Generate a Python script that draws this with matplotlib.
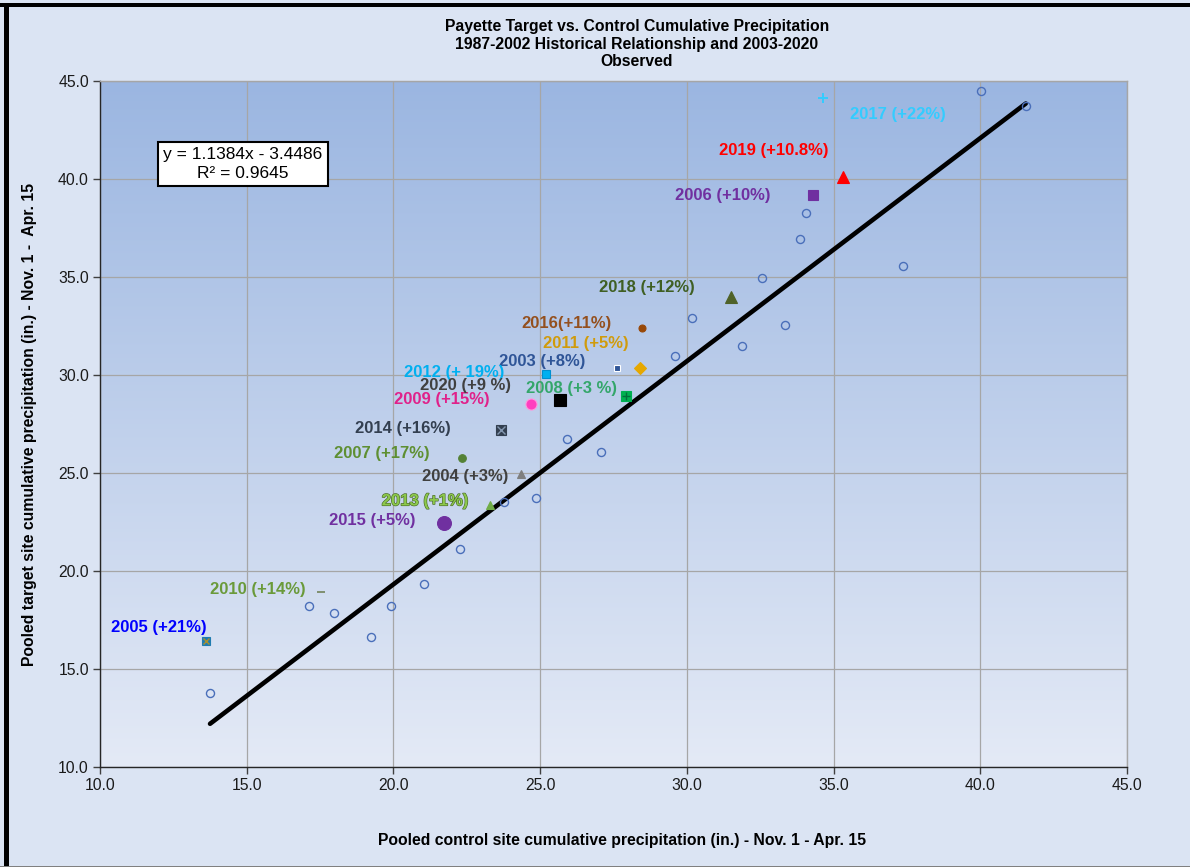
import numpy as np
import matplotlib
matplotlib.use("Agg")
import matplotlib.pyplot as plt
from matplotlib.patches import Rectangle
from matplotlib.colors import LinearSegmentedColormap
import matplotlib.patheffects as pe

plt.rcParams['font.family'] = ['Liberation Sans', 'DejaVu Sans']

# ---------------- data ----------------
# 1987-2002 historical pairs (control, target)
hist_x = [13.75, 17.13, 17.99, 19.23, 19.91, 21.04, 22.27, 23.77, 24.87, 25.91,
          27.06, 29.60, 30.16, 31.89, 32.57, 33.35, 33.86, 34.05, 37.35, 40.02, 41.55]
hist_y = [13.79, 18.21, 17.87, 16.62, 18.21, 19.34, 21.12, 23.50, 23.71, 26.75,
          26.09, 30.97, 32.92, 31.48, 34.96, 32.57, 36.92, 38.28, 35.56, 44.49, 43.72]

# 2003-2020 observed (seeded) years
years = [2003, 2004, 2005, 2006, 2007, 2008, 2009, 2010, 2011,
         2012, 2013, 2014, 2015, 2016, 2017, 2018, 2019, 2020]
obs_x = [27.63, 24.34, 13.61, 34.31, 22.35, 27.93, 24.70, 17.53, 28.40,
         25.19, 23.29, 23.67, 21.73, 28.48, 34.63, 31.50, 35.31, 25.66]
obs_y = [30.36, 24.97, 16.44, 39.18, 25.78, 28.93, 28.54, 18.94, 30.37,
         30.07, 23.37, 27.19, 22.43, 32.41, 44.12, 33.99, 40.08, 28.72]
obs_labels = ["2003 (+8%)", "2004 (+3%)", "2005 (+21%)", "2006 (+10%)", "2007 (+17%)",
              "2008 (+3 %)", "2009 (+15%)", "2010 (+14%)", "2011 (+5%)", "2012 (+ 19%)",
              "2013 (+1%)", "2014 (+16%)", "2015 (+5%)", "2016(+11%)", "2017 (+22%)",
              "2018 (+12%)", "2019 (+10.8%)", "2020 (+9 %)"]

# regression (as printed on the chart)
slope, intercept, r2 = 1.1384, -3.4486, 0.9645

x_ticks = [10.0, 15.0, 20.0, 25.0, 30.0, 35.0, 40.0, 45.0]
y_ticks = [10.0, 15.0, 20.0, 25.0, 30.0, 35.0, 40.0, 45.0]

title_lines = ["Payette Target vs. Control Cumulative Precipitation",
               "1987-2002 Historical Relationship and 2003-2020",
               "Observed"]
xlabel = "Pooled control site cumulative precipitation (in.) - Nov. 1 - Apr. 15"
ylabel = "Pooled target site cumulative precipitation (in.) - Nov. 1 -  Apr. 15"

# ---------------- styles ----------------
# year: (marker, size, face, edge, label color, label dx px, label dy px, overlay)
style = {
    2003: ('s', 5.0, '#2F5597', 'white', '#2F5597', -75, 6, None),
    2004: ('^', 6.0, '#7F7F7F', '#7F7F7F', '#404040', -56, -3, None),
    2005: ('s', 6.0, '#1F7CB0', '#1F7CB0', '#0000FF', -47, 13, ('x', '#A89030')),
    2006: ('s', 6.5, '#7030A0', '#7030A0', '#7030A0', -91, 0, None),
    2007: ('o', 5.5, '#548235', '#548235', '#5E8F32', -81, 4, None),
    2008: ('s', 6.5, '#00B050', '#00B050', '#33A66A', -55, 7, ('+', '#00703A')),
    2009: ('o', 8.0, '#FF3FBF', '#FF99DD', '#E0218A', -90, 4, None),
    2010: ('_', 6.0, '#7F8F6F', '#7F8F6F', '#6A9A3A', -63, 2, None),
    2011: ('D', 6.0, '#E6A800', '#E6A800', '#D09B0C', -54, 24, None),
    2012: ('s', 5.5, '#00B0F0', '#0090D0', '#00B0F0', -92, 1, None),
    2013: ('^', 6.0, '#70AD47', '#70AD47', '#8CC84B', -65, 4, None),
    2014: ('s', 7.0, '#333F50', '#333F50', '#333F50', -98, 2, ('x', '#8497B0')),
    2015: ('o', 10.0, '#7030A0', '#7030A0', '#7030A0', -72, 3, None),
    2016: ('o', 5.0, '#984807', '#984807', '#94501E', -76, 4, None),
    2017: ('+', 7.0, '#33CCFF', '#33CCFF', '#33CCFF', 75, -16, None),
    2018: ('^', 9.0, '#4F6228', '#4F6228', '#3F5F23', -84, 9, None),
    2019: ('^', 9.0, '#FF0000', '#FF0000', '#FF0000', -69, 27, None),
    2020: ('s', 8.0, '#000000', '#000000', '#404040', -94, 15, None),
}

W, H = 1190, 867
fig = plt.figure(figsize=(W / 100, H / 100), dpi=100)
bg = '#DBE4F3'
fig.patch.set_facecolor(bg)

# axes placement (pixels)
ax_l, ax_r, ax_t, ax_b = 100, 1127, 81, 767
ax = fig.add_axes([ax_l / W, (H - ax_b) / H, (ax_r - ax_l) / W, (ax_b - ax_t) / H])
ax.set_xlim(10, 45)
ax.set_ylim(10, 45)

# gradient background
cmap = LinearSegmentedColormap.from_list('g', ['#E4EAF6', '#9BB6E1'])
grad = np.linspace(0, 1, 256).reshape(-1, 1)
ax.imshow(grad, extent=[10, 45, 10, 45], origin='lower', aspect='auto',
          cmap=cmap, zorder=0, interpolation='bicubic')

ax.set_xticks(x_ticks)
ax.set_yticks(y_ticks)
ax.set_xticklabels([f"{v:.1f}" for v in x_ticks], fontsize=11.3)
ax.set_yticklabels([f"{v:.1f}" for v in y_ticks], fontsize=11.3)
ax.grid(True, color='#A6A6A6', lw=0.9, zorder=1)
ax.tick_params(direction='out', length=5, width=1, color='#404040', pad=3, labelcolor='#1A1A1A')
for s in ['left', 'bottom']:
    ax.spines[s].set_color('#262626')
    ax.spines[s].set_linewidth(1.0)
for s in ['top', 'right']:
    ax.spines[s].set_color('#A6A6A6')
    ax.spines[s].set_linewidth(1.0)

# historical points
ax.plot(hist_x, hist_y, 'o', ms=5.8, mfc='none', mec='#4A6FBA', mew=1.0, zorder=4)

# regression line
lx = np.array([min(hist_x), max(hist_x)])
ax.plot(lx, slope * lx + intercept, color='black', lw=3.3, solid_capstyle='round', zorder=3)

# observed years
for yr, x, y, lab in zip(years, obs_x, obs_y, obs_labels):
    m, ms, fc, ec, lc, dx, dy, ov = style[yr]
    mew = 1.4 if m in ('+', '_') else 0.8
    ax.plot([x], [y], m, ms=ms, mfc=fc, mec=ec if m not in ('+', '_') else fc,
            mew=mew, zorder=5)
    if ov is not None:
        ax.plot([x], [y], ov[0], ms=ms * 0.8, mec=ov[1], mew=1.0, zorder=6)
    kw = {}
    if yr == 2013:
        kw['path_effects'] = [pe.withStroke(linewidth=0.9, foreground='#4A6A2A')]
    ax.annotate(lab, (x, y), xytext=(dx, dy), textcoords='offset pixels',
                ha='center', va='center', fontsize=12, fontweight='bold',
                color=lc, zorder=7, **kw)

# equation box
fig.text(243 / W, 1 - 164 / H, f"y = {slope:.4f}x - {abs(intercept):.4f}\nR² = {r2:.4f}",
         ha='center', va='center', fontsize=12.5, linespacing=1.3, color='black',
         bbox=dict(boxstyle='square,pad=0.3', fc='white', ec='black', lw=1.5), zorder=10)

# titles and labels
for i, line in enumerate(title_lines):
    fig.text(637 / W, 1 - (27 + 17.5 * i) / H, line, ha='center', va='center',
             fontsize=11.3, fontweight='bold', color='black')
fig.text(622 / W, 1 - 841 / H, xlabel, ha='center', va='center', fontsize=11.3,
         fontweight='bold', color='black')
fig.text(30 / W, 1 - 424 / H, ylabel, ha='center', va='center', rotation=90,
         fontsize=11.3, fontweight='bold', color='black')

# outer frame decorations
fig.add_artist(Rectangle((0, 1 - 7 / H), 1, 4 / H, transform=fig.transFigure,
                         fc='black', ec='none', zorder=20))
fig.add_artist(Rectangle((4 / W, 0), 5 / W, 1 - 3 / H, transform=fig.transFigure,
                         fc='black', ec='none', zorder=20))
fig.add_artist(Rectangle((0, 0), 1, 1.5 / H, transform=fig.transFigure,
                         fc='#808080', ec='none', zorder=20))

fig.savefig('out.png', dpi=100, facecolor=bg)
